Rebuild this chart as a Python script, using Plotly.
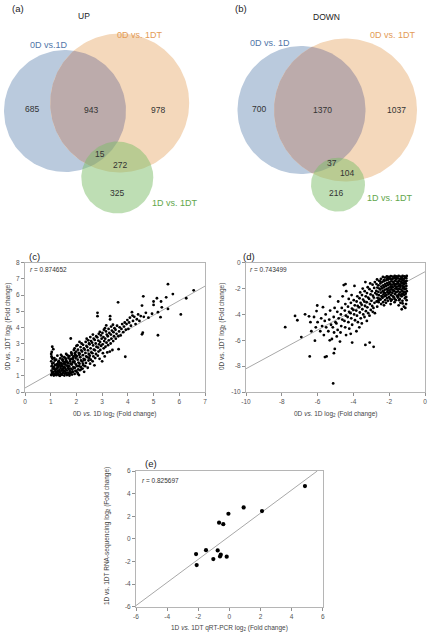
import numpy as np
import plotly.graph_objects as go

W, H = 430, 635
FONT = "Liberation Sans, Arial, sans-serif"

# ---- data -----------------------------------------------------------------
up_labels = ["0D vs.1D", "0D vs. 1DT", "1D vs. 1DT"]
up_counts = [685, 943, 978, 15, 272, 325]
down_labels = ["0D vs. 1D", "0D vs. 1DT", "1D vs. 1DT"]
down_counts = [700, 1370, 1037, 37, 104, 216]

# (c) up-regulated genes: 0D vs 1D (x) against 0D vs 1DT (y), log2 fold change
c_points = [
    (1.02, 1.05), (1.05, 1.18), (1.03, 1.32), (1.08, 1.45), (1.04, 1.6), (1.06, 1.75), (1.02, 1.9),
    (1.07, 2.05), (1.03, 2.2), (1.05, 2.12), (1.02, 2.35), (1.06, 2.8), (1.1, 2.65), (1.04, 2.48),
    (1.12, 1.02), (1.15, 1.12), (1.1, 1.25), (1.18, 1.38), (1.13, 1.52), (1.17, 1.66), (1.11, 1.8),
    (1.16, 1.95), (1.14, 2.1), (1.19, 1.28), (1.22, 1.04), (1.25, 1.16), (1.28, 1.3), (1.23, 1.44),
    (1.27, 1.58), (1.24, 1.72), (1.29, 1.86), (1.21, 2.0), (1.26, 2.25), (1.3, 1.1), (1.33, 1.03),
    (1.36, 1.21), (1.34, 1.36), (1.38, 1.5), (1.35, 1.64), (1.39, 1.78), (1.32, 1.92), (1.37, 2.08),
    (1.4, 2.3), (1.36, 1.0), (1.44, 1.06), (1.47, 1.18), (1.42, 1.32), (1.48, 1.46), (1.45, 1.6),
    (1.43, 1.74), (1.49, 1.88), (1.46, 2.02), (1.44, 2.2), (1.5, 1.25), (1.53, 1.02), (1.56, 1.14),
    (1.54, 1.28), (1.58, 1.42), (1.52, 1.56), (1.57, 1.7), (1.55, 1.85), (1.59, 2.0), (1.53, 2.15),
    (1.6, 2.35), (1.63, 1.05), (1.66, 1.2), (1.62, 1.34), (1.68, 1.48), (1.64, 1.62), (1.67, 1.78),
    (1.61, 1.92), (1.69, 2.1), (1.65, 2.28), (1.7, 1.1), (1.73, 1.02), (1.76, 1.16), (1.74, 1.3),
    (1.78, 1.45), (1.72, 1.58), (1.77, 1.74), (1.75, 1.9), (1.79, 2.05), (1.73, 2.22), (1.8, 2.45),
    (1.83, 1.08), (1.86, 1.24), (1.84, 1.38), (1.88, 1.54), (1.82, 1.7), (1.87, 1.86), (1.85, 2.02),
    (1.89, 2.2), (1.81, 2.38), (1.9, 2.6), (1.78, 3.31),
    (1.08, 1.1), (1.2, 1.2), (1.32, 1.26), (1.44, 1.4), (1.56, 1.5), (1.68, 1.62), (1.8, 1.76),
    (1.92, 1.82), (1.1, 1.55), (1.22, 1.68), (1.34, 1.82), (1.46, 1.95), (1.58, 2.08), (1.7, 2.2),
    (1.82, 2.3), (1.94, 2.4), (1.15, 1.4), (1.27, 1.5), (1.39, 1.62), (1.51, 1.75), (1.63, 1.86),
    (1.75, 2.0), (1.87, 2.12), (1.99, 2.25), (2.11, 2.3), (1.2, 1.08), (1.4, 1.12), (1.6, 1.18),
    (1.8, 1.22), (2.0, 1.3), (2.2, 1.42), (1.3, 1.7), (1.5, 1.34), (1.7, 1.42), (1.9, 1.48),
    (2.1, 1.6), (2.25, 1.75), (2.06, 1.12), (2.3, 1.98), (2.5, 2.1),
    (1.93, 1.12), (1.96, 1.3), (1.94, 1.5), (1.98, 1.7), (1.92, 1.9), (1.97, 2.1), (1.95, 2.3),
    (1.99, 2.5), (1.93, 2.7), (2.0, 2.85), (2.04, 1.2), (2.07, 1.4), (2.03, 1.6), (2.08, 1.82),
    (2.05, 2.0), (2.02, 2.2), (2.09, 2.42), (2.06, 2.62), (2.04, 2.9), (2.1, 1.05), (2.14, 1.35),
    (2.17, 1.55), (2.12, 1.75), (2.18, 1.95), (2.15, 2.15), (2.13, 2.38), (2.19, 2.58), (2.16, 2.78),
    (2.2, 3.0), (2.12, 3.1), (2.24, 1.45), (2.27, 1.65), (2.23, 1.88), (2.28, 2.05), (2.25, 2.28),
    (2.22, 2.5), (2.29, 2.7), (2.26, 2.92), (2.3, 1.25), (2.34, 1.6), (2.37, 1.8), (2.33, 2.0),
    (2.38, 2.2), (2.35, 2.42), (2.32, 2.62), (2.39, 2.85), (2.36, 3.1), (2.4, 3.3), (2.44, 1.5),
    (2.47, 1.95), (2.43, 2.15), (2.48, 2.35), (2.45, 2.58), (2.42, 2.78), (2.49, 3.0), (2.46, 3.2),
    (2.53, 1.75), (2.56, 2.0), (2.52, 2.25), (2.58, 2.45), (2.55, 2.7), (2.51, 2.95), (2.57, 3.15),
    (2.54, 3.4), (2.63, 1.9), (2.66, 2.2), (2.62, 2.4), (2.68, 2.62), (2.65, 2.88), (2.61, 3.05),
    (2.67, 3.3), (2.64, 3.55), (2.73, 2.1), (2.76, 2.35), (2.72, 2.58), (2.78, 2.8), (2.75, 3.0),
    (2.71, 3.22), (2.77, 3.45), (2.82, 4.9), (2.82, 4.69), (2.83, 2.25), (2.86, 2.5), (2.84, 2.75),
    (2.88, 2.95), (2.85, 3.18), (2.81, 3.38), (2.87, 3.6), (2.93, 2.6), (2.96, 2.85), (2.92, 3.1),
    (2.98, 3.3), (2.95, 3.5), (2.91, 3.72), (2.7, 1.65), (2.9, 2.05),
    (3.03, 2.4), (3.06, 2.7), (3.02, 2.95), (3.08, 3.15), (3.05, 3.4), (3.01, 3.65), (3.07, 3.85),
    (3.16, 4.12), (3.13, 2.8), (3.17, 3.05), (3.12, 3.3), (3.18, 3.55), (3.15, 3.75), (3.11, 3.95),
    (3.23, 2.9), (3.26, 3.2), (3.22, 3.45), (3.28, 3.65), (3.25, 3.9), (3.31, 4.69), (3.31, 4.49),
    (3.33, 3.0), (3.36, 3.3), (3.34, 3.55), (3.38, 3.8), (3.35, 4.05), (3.42, 4.16), (3.43, 3.15),
    (3.46, 3.45), (3.44, 3.7), (3.48, 3.95), (3.4, 2.6), (3.3, 2.5), (3.2, 2.45), (3.1, 2.2),
    (3.0, 1.9), (3.53, 3.3), (3.56, 3.6), (3.52, 3.85), (3.58, 4.1), (3.62, 5.55), (3.64, 2.65),
    (3.63, 3.45), (3.66, 3.75), (3.68, 4.0), (3.72, 3.5), (3.75, 3.9), (3.78, 4.2), (3.82, 3.7),
    (3.85, 4.05), (3.88, 4.3), (3.9, 2.18), (3.92, 3.85), (3.95, 4.2), (3.98, 4.45), (4.02, 3.9),
    (4.05, 4.3), (4.08, 4.6), (4.12, 4.1), (4.16, 4.94), (4.18, 4.73), (4.2, 4.4), (4.25, 4.65),
    (4.3, 4.2), (4.35, 4.5), (4.4, 4.8), (4.45, 4.4), (4.5, 4.7), (4.55, 5.35), (4.55, 3.57),
    (4.58, 3.67), (4.6, 5.92), (4.62, 4.65), (4.7, 4.9), (4.8, 4.6), (4.94, 4.84), (5.0, 5.6),
    (5.0, 5.39), (5.13, 5.8), (5.17, 4.94), (5.17, 3.51), (5.27, 4.63), (5.29, 5.6), (5.32, 5.24),
    (5.49, 5.86), (5.56, 6.67), (5.56, 5.14), (5.75, 6.06), (6.06, 4.8), (6.27, 5.8), (6.56, 6.29),
]

# (d) down-regulated genes: 0D vs 1D (x) against 0D vs 1DT (y), log2 fold change
d_points = [
    (-1.02, -1.03), (-1.05, -1.2), (-1.03, -1.4), (-1.07, -1.6), (-1.04, -1.8), (-1.06, -2.0),
    (-1.02, -2.2), (-1.08, -2.4), (-1.05, -2.65), (-1.03, -2.9), (-1.06, -3.2), (-1.14, -1.05),
    (-1.17, -1.25), (-1.12, -1.45), (-1.18, -1.65), (-1.15, -1.85), (-1.13, -2.05), (-1.19, -2.25),
    (-1.16, -2.5), (-1.12, -2.75), (-1.18, -3.4), (-1.25, -1.02), (-1.28, -1.18), (-1.23, -1.38),
    (-1.29, -1.58), (-1.26, -1.78), (-1.22, -1.98), (-1.27, -2.18), (-1.24, -2.4), (-1.3, -2.6),
    (-1.26, -2.95), (-1.36, -1.08), (-1.39, -1.28), (-1.34, -1.48), (-1.4, -1.68), (-1.37, -1.88),
    (-1.33, -2.08), (-1.38, -2.3), (-1.35, -2.52), (-1.41, -2.8), (-1.37, -3.1), (-1.47, -1.02),
    (-1.5, -1.22), (-1.45, -1.42), (-1.51, -1.62), (-1.48, -1.82), (-1.44, -2.02), (-1.49, -2.22),
    (-1.46, -2.45), (-1.52, -2.7), (-1.47, -3.3), (-1.58, -1.06), (-1.61, -1.26), (-1.56, -1.46),
    (-1.62, -1.66), (-1.59, -1.86), (-1.55, -2.06), (-1.6, -2.28), (-1.57, -2.55), (-1.63, -2.9),
    (-1.69, -1.02), (-1.72, -1.2), (-1.67, -1.4), (-1.73, -1.6), (-1.7, -1.8), (-1.66, -2.0),
    (-1.71, -2.2), (-1.68, -2.42), (-1.74, -2.68), (-1.7, -3.05), (-1.8, -1.08), (-1.83, -1.28),
    (-1.78, -1.48), (-1.84, -1.7), (-1.81, -1.9), (-1.77, -2.12), (-1.82, -2.35), (-1.79, -2.6),
    (-1.85, -2.85), (-1.91, -1.04), (-1.94, -1.24), (-1.89, -1.44), (-1.95, -1.64), (-1.92, -1.84),
    (-1.88, -2.05), (-1.93, -2.28), (-1.9, -2.5), (-1.96, -2.78), (-1.92, -3.2), (-2.02, -1.1),
    (-2.05, -1.3), (-2.0, -1.52), (-2.06, -1.72), (-2.03, -1.95), (-1.99, -2.15), (-2.04, -2.4),
    (-2.01, -2.65), (-2.07, -2.95), (-2.13, -1.05), (-2.16, -1.35), (-2.11, -1.58), (-2.17, -1.8),
    (-2.14, -2.02), (-2.1, -2.25), (-2.15, -2.5), (-2.12, -2.75), (-2.18, -3.1), (-2.24, -1.15),
    (-2.27, -1.42), (-2.22, -1.65), (-2.28, -1.88), (-2.25, -2.1), (-2.21, -2.35), (-2.26, -2.6),
    (-2.23, -2.9), (-2.29, -3.3), (-2.35, -1.1), (-2.38, -1.5), (-2.33, -1.75), (-2.39, -1.98),
    (-2.36, -2.2), (-2.32, -2.45), (-2.37, -2.72), (-2.34, -3.05), (-2.46, -1.25), (-2.49, -1.6),
    (-2.44, -1.85), (-2.5, -2.08), (-2.47, -2.32), (-2.43, -2.58), (-2.48, -2.85), (-2.45, -3.2),
    (-2.57, -1.4), (-2.6, -1.75), (-2.55, -2.0), (-2.61, -2.25), (-2.58, -2.5), (-2.54, -2.78),
    (-2.59, -3.05), (-2.68, -1.3), (-2.71, -1.65), (-2.66, -1.92), (-2.72, -2.18), (-2.69, -2.45),
    (-2.65, -2.72), (-2.7, -3.0), (-2.67, -3.4),
    (-1.1, -1.12), (-1.3, -1.3), (-1.5, -1.5), (-1.7, -1.7), (-1.9, -1.9), (-2.1, -2.1),
    (-2.3, -2.3), (-1.2, -1.55), (-1.4, -1.75), (-1.6, -1.95), (-1.8, -2.15), (-2.0, -2.35),
    (-2.2, -2.55), (-1.1, -2.3), (-1.3, -2.45), (-1.5, -2.6), (-1.7, -2.8), (-1.9, -2.95),
    (-2.1, -1.2), (-2.3, -1.35), (-2.5, -1.45), (-2.0, -1.15), (-1.6, -1.15), (-1.2, -1.9),
    (-1.45, -2.9), (-1.25, -3.15), (-2.4, -2.65), (-2.6, -2.9), (-1.1, -3.5), (-1.3, -3.6),
    (-2.8, -1.5), (-2.84, -1.95), (-2.78, -2.35), (-2.86, -2.7), (-2.82, -3.1), (-2.88, -3.5),
    (-2.8, -3.9), (-2.87, -6.51), (-2.93, -1.7), (-2.97, -2.2), (-2.91, -2.55), (-2.99, -2.95),
    (-2.95, -3.35), (-2.92, -3.8), (-3.06, -1.6), (-3.1, -2.05), (-3.04, -2.45), (-3.12, -2.8),
    (-3.08, -3.2), (-3.03, -3.65), (-3.1, -4.1), (-3.09, -6.18), (-3.2, -1.9), (-3.24, -2.35),
    (-3.18, -2.7), (-3.26, -3.05), (-3.22, -3.45), (-3.17, -3.9), (-3.25, -4.5), (-3.33, -1.5),
    (-3.37, -2.2), (-3.31, -2.6), (-3.39, -3.0), (-3.35, -3.35), (-3.3, -3.75), (-3.38, -4.2),
    (-3.33, -6.36), (-3.48, -2.0), (-3.52, -2.5), (-3.46, -2.85), (-3.54, -3.25), (-3.5, -3.6),
    (-3.45, -4.0), (-3.53, -4.7), (-3.62, -2.3), (-3.66, -2.75), (-3.6, -3.1), (-3.68, -3.45),
    (-3.64, -3.85), (-3.59, -4.3), (-3.67, -5.0), (-3.78, -2.6), (-3.82, -3.0), (-3.76, -3.35),
    (-3.84, -3.7), (-3.8, -4.1), (-3.75, -4.6), (-3.83, -5.3), (-3.94, -1.8), (-3.98, -2.9),
    (-3.92, -3.3), (-4.0, -3.65), (-3.96, -4.0), (-3.91, -4.45), (-4.07, -6.18), (-4.1, -2.5),
    (-4.14, -3.1), (-4.08, -3.55), (-4.16, -3.9), (-4.12, -4.3), (-4.07, -4.8), (-4.15, -5.5),
    (-4.26, -2.8), (-4.3, -3.4), (-4.24, -3.8), (-4.32, -4.2), (-4.28, -4.6), (-4.23, -5.1),
    (-4.44, -1.65), (-4.54, -1.73), (-4.4, -2.2), (-4.45, -3.2), (-4.48, -3.7), (-4.42, -4.1),
    (-4.5, -4.5), (-4.46, -5.0), (-4.41, -5.6), (-4.6, -2.6), (-4.65, -3.5), (-4.7, -4.0),
    (-4.62, -4.4), (-4.68, -4.9), (-4.72, -5.4), (-4.75, -6.1), (-4.85, -3.0), (-4.9, -3.8),
    (-4.82, -4.3), (-4.95, -4.7), (-4.88, -5.2), (-4.93, -5.7), (-5.04, -6.67), (-5.09, -7.0),
    (-5.13, -9.34), (-5.05, -3.5), (-5.1, -4.2), (-5.0, -4.6), (-5.15, -5.0), (-5.08, -5.4),
    (-5.2, -5.9), (-5.31, -2.62), (-5.3, -3.7), (-5.35, -4.4), (-5.25, -4.8), (-5.4, -5.3),
    (-5.32, -6.0), (-5.5, -7.25), (-5.59, -7.3), (-5.55, -4.0), (-5.6, -4.5), (-5.52, -5.0),
    (-5.65, -5.6), (-5.7, -3.44), (-5.8, -4.3), (-5.75, -4.9), (-5.85, -5.3), (-6.02, -3.31),
    (-6.06, -3.74), (-6.15, -6.03), (-6.0, -4.6), (-6.1, -5.0), (-6.2, -4.2), (-6.44, -7.25),
    (-6.48, -4.15), (-6.4, -4.6), (-6.35, -5.3), (-6.7, -3.99), (-6.91, -5.75), (-7.13, -4.45),
    (-7.26, -4.12), (-7.81, -4.99),
]

# (e) qRT-PCR (x) against RNA-seq (y), 1D vs 1DT
e_x = [4.86, 2.1, 0.92, -0.06, -0.66, -0.39, -1.5, -2.14, -2.1, -1.03, -0.75, -0.55, -0.6, -0.17]
e_y = [4.67, 2.46, 2.78, 2.22, 1.43, 1.3, -1.0, -1.35, -2.32, -1.79, -1.02, -1.4, -1.55, -1.58]

# fitted trend lines
c_fit_x, c_fit_y = [0, 7], [0.25, 6.55]
d_fit_x, d_fit_y = [-10, 0], [-8.2, -0.7]
e_fit_x, e_fit_y = [-6, 5.65], [-5.9, 6.0]

r_values = ["0.874652", "0.743499", "0.825697"]

c_xticks, c_yticks = list(range(0, 8)), list(range(0, 9))
d_xticks, d_yticks = list(range(-10, 1, 2)), list(range(-10, 1, 2))
e_xticks, e_yticks = list(range(-6, 7, 2)), list(range(-6, 7, 2))

# ---- venn geometry (pixel space, y down) ----------------------------------
VENN = {
    "a": dict(
        circles=[(65, 111, 61), (119.7, 103, 69.5), (117.3, 177.5, 36)],
        label_xy=[(49, 45), (140, 35), (175, 203)],
        count_xy=[(32, 109), (91, 110), (158, 110), (100, 154), (120, 165), (117, 193)],
        title=("UP", 84, 16), tag=("(a)", 18, 8),
    ),
    "b": dict(
        circles=[(301.5, 110, 64), (345.5, 110, 71.5), (338, 184.7, 27)],
        label_xy=[(270, 43), (393, 35), (390, 198)],
        count_xy=[(259, 109), (322, 110), (396, 110), (332, 163), (347, 173), (336, 193)],
        title=("DOWN", 326, 17), tag=("(b)", 241, 8),
    ),
}
FILLS = ["#bacadd", "#f4d8bb", "rgba(125,189,105,0.5)"]
LENS = "#bcabab"
LABEL_COLORS = ["#5276a8", "#e39b57", "#62a64c"]


def circle_xy(cx, cy, r, n=180):
    t = np.linspace(0, 2 * np.pi, n)
    return cx + r * np.cos(t), cy + r * np.sin(t)


def lens_xy(c1, c2, n=80):
    (x1, y1, r1), (x2, y2, r2) = c1, c2
    d = np.hypot(x2 - x1, y2 - y1)
    phi = np.arctan2(y2 - y1, x2 - x1)
    a1 = np.arccos((d * d + r1 * r1 - r2 * r2) / (2 * d * r1))
    a2 = np.arccos((d * d + r2 * r2 - r1 * r1) / (2 * d * r2))
    t1 = np.linspace(phi - a1, phi + a1, n)
    t2 = np.linspace(phi + np.pi - a2, phi + np.pi + a2, n)
    xs = np.concatenate([x1 + r1 * np.cos(t1), x2 + r2 * np.cos(t2)])
    ys = np.concatenate([y1 + r1 * np.sin(t1), y2 + r2 * np.sin(t2)])
    return xs, ys


fig = go.Figure()
ann = []


def px_text(text, x, y, size, color="#222", **kw):
    ann.append(dict(text=text, x=x, y=y, xref="x4", yref="y4", showarrow=False,
                    font=dict(family=FONT, size=size, color=color), **kw))


for key, labels, counts in (("a", up_labels, up_counts), ("b", down_labels, down_counts)):
    v = VENN[key]
    blue, orange, green = v["circles"]
    for circ, fill in ((blue, FILLS[0]), (orange, FILLS[1])):
        xs, ys = circle_xy(*circ)
        fig.add_trace(go.Scatter(x=xs, y=ys, fill="toself", fillcolor=fill, mode="lines",
                                 line=dict(width=0), xaxis="x4", yaxis="y4", hoverinfo="skip"))
    xs, ys = lens_xy(blue, orange)
    fig.add_trace(go.Scatter(x=xs, y=ys, fill="toself", fillcolor=LENS, mode="lines",
                             line=dict(width=0), xaxis="x4", yaxis="y4", hoverinfo="skip"))
    xs, ys = circle_xy(*green)
    fig.add_trace(go.Scatter(x=xs, y=ys, fill="toself", fillcolor=FILLS[2], mode="lines",
                             line=dict(width=0), xaxis="x4", yaxis="y4", hoverinfo="skip"))
    for lab, (lx, ly), col in zip(labels, v["label_xy"], LABEL_COLORS):
        px_text(lab, lx, ly, 9, col)
    for n, (nx, ny) in zip(counts, v["count_xy"]):
        px_text(str(n), nx, ny, 8.5, "#333")
    t, tx, ty = v["title"]
    px_text(t, tx, ty, 8.5, "#222")
    t, tx, ty = v["tag"]
    px_text(t, tx, ty, 9.5, "#222")

# ---- scatter panels --------------------------------------------------------
fig.add_trace(go.Scatter(x=c_fit_x, y=c_fit_y, mode="lines", line=dict(color="#a8a8a8", width=1),
                         xaxis="x", yaxis="y"))
fig.add_trace(go.Scatter(x=[p[0] for p in c_points], y=[p[1] for p in c_points], mode="markers",
                         marker=dict(size=2.8, color="black"), xaxis="x", yaxis="y"))
fig.add_trace(go.Scatter(x=d_fit_x, y=d_fit_y, mode="lines", line=dict(color="#a8a8a8", width=1),
                         xaxis="x2", yaxis="y2"))
fig.add_trace(go.Scatter(x=[p[0] for p in d_points], y=[p[1] for p in d_points], mode="markers",
                         marker=dict(size=2.8, color="black"), xaxis="x2", yaxis="y2"))
fig.add_trace(go.Scatter(x=e_fit_x, y=e_fit_y, mode="lines", line=dict(color="#a8a8a8", width=1),
                         xaxis="x3", yaxis="y3"))
fig.add_trace(go.Scatter(x=e_x, y=e_y, mode="markers", marker=dict(size=4.2, color="black"),
                         xaxis="x3", yaxis="y3"))


def axis(domain, rng, ticks, anchor):
    return dict(domain=domain, range=rng, anchor=anchor, tickvals=ticks,
                ticktext=[str(t) for t in ticks], showline=True, mirror=True,
                linecolor="#b5b5b5", linewidth=1, ticks="outside", ticklen=3,
                tickcolor="#909090", tickfont=dict(family=FONT, size=6.5, color="#555"),
                showgrid=False, zeroline=False, fixedrange=True, automargin=False,
                ticklabeloverflow="allow")


ydom_cd = [1 - 392 / H, 1 - 262.7 / H]
fig.update_layout(
    template="none",
    xaxis=axis([25 / W, 205 / W], [0, 7], c_xticks, "y"),
    yaxis=axis(ydom_cd, [0, 8], c_yticks, "x"),
    xaxis2=axis([246 / W, 425 / W], [-10, 0], d_xticks, "y2"),
    yaxis2=axis(ydom_cd, [-10, 0], d_yticks, "x2"),
    xaxis3=axis([136 / W, 322.7 / W], [-6, 6], e_xticks, "y3"),
    yaxis3=axis([1 - 606.7 / H, 1 - 471 / H], [-6, 6], e_yticks, "x3"),
    xaxis4=dict(domain=[0, 1], range=[0, W], anchor="y4", visible=False, fixedrange=True,
                automargin=False),
    yaxis4=dict(domain=[0, 1], range=[H, 0], anchor="x4", visible=False, fixedrange=True,
                automargin=False),
)

vs = "<i>vs.</i>"
lg = "log<sub>2</sub> (Fold change)"
px_text(f"0D {vs} 1D {lg}", 115, 414, 6.5, "#444")
px_text(f"0D vs. 1DT {lg}", 8, 327, 6.5, "#444", textangle=-90)
px_text(f"0D {vs} 1D {lg}", 336, 414, 6.5, "#444")
px_text(f"0D vs. 1DT {lg}", 222, 327, 6.5, "#444", textangle=-90)
px_text(f"1D {vs} 1DT qRT-PCR {lg}", 229, 628, 6.5, "#444")
px_text(f"1D vs. 1DT RNA-sequencing {lg}", 107, 536, 6.5, "#444", textangle=-90)

for r, (rx, ry) in zip(r_values, [(28, 269), (248, 269), (140, 480)]):
    px_text(f"<i>r</i> = {r}", rx, ry, 6.5, "#333", xanchor="left")

px_text("(c)", 34, 256, 9.5)
px_text("(d)", 249, 256, 9.5)
px_text("(e)", 151, 463, 9.5)

fig.update_layout(
    width=W, height=H, margin=dict(l=0, r=0, t=0, b=0, pad=0), showlegend=False,
    paper_bgcolor="white", plot_bgcolor="rgba(0,0,0,0)", annotations=ann,
    font=dict(family=FONT), hovermode=False,
)

# the page's default 8px body margin would push the figure off the window
fig.write_html("out.html", config={"displayModeBar": False},
               post_script="document.body.style.margin = '0';")
